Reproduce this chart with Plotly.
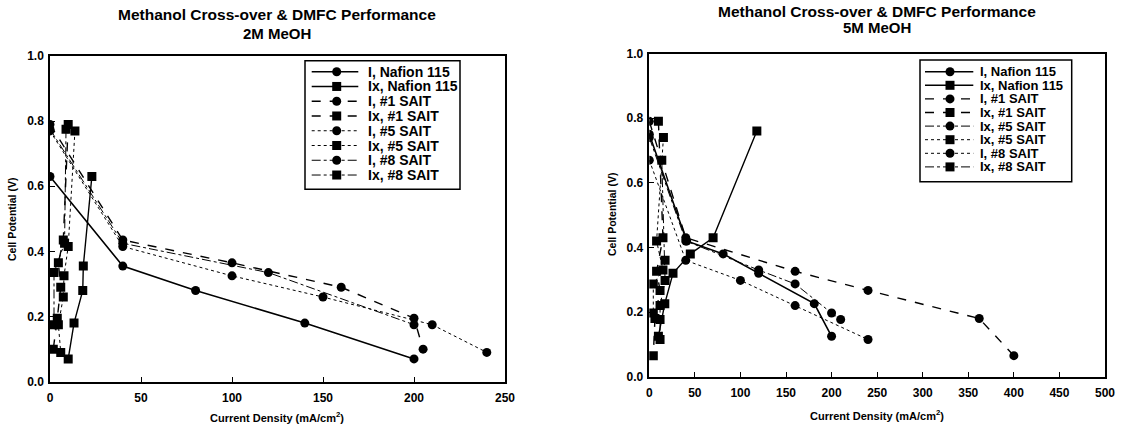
import plotly.graph_objects as go

# ---------------- 2M MeOH (left) ----------------
v2_naf = [0.63, 0.355, 0.28, 0.18, 0.07]
i2_naf = [0, 40, 80, 140, 200]
ix2_naf = [23, 18.3, 18, 13.2, 10]

v2_s1 = [0.79, 0.435, 0.365, 0.29, 0.195, 0.10]
i2_s1 = [0, 40, 100, 160, 200, 205]
ix2_s1 = [10, 7.3, 4.6, 5.9, 4.0, 1.8]

v2_s5 = [0.77, 0.415, 0.325, 0.26, 0.175, 0.09]
i2_s5 = [0, 40, 100, 150, 210, 240]
ix2_s5 = [13.7, 10, 7.7, 7.3, 4.6, 5.9]

v2_s8 = [0.775, 0.425, 0.335, 0.175]
i2_s8 = [0, 40, 120, 200]
ix2_s8 = [8.8, 8, 2.2, 2.2]

# ---------------- 5M MeOH (right) ----------------
v5_naf = [0.75, 0.42, 0.38, 0.32, 0.226, 0.125]
i5_naf = [0, 41, 81, 120, 181, 200]
vx5_naf = [0.76, 0.43, 0.38, 0.32, 0.226, 0.125]
ix5_naf = [118, 70, 45, 26, 17, 10]

v5_s1 = [0.79, 0.43, 0.326, 0.267, 0.18, 0.065]
i5_s1 = [0, 40, 160, 240, 362, 400]
ix5_s1 = [10, 15, 8, 11.8, 6.2, 4.4]

v5_s5 = [0.74, 0.42, 0.33, 0.287, 0.197, 0.177]
i5_s5 = [0, 40, 120, 160, 200, 210]
ix5_s5 = [15.5, 8, 15, 4.4, 4.4, 11.8]

v5_s8 = [0.67, 0.36, 0.298, 0.22, 0.115]
i5_s8 = [0, 40, 100, 160, 240]
ix5_s8 = [13.7, 17.3, 17.3, 11.8, 11.8]

names_2m = ["I, Nafion 115", "Ix, Nafion 115", "I, #1 SAIT", "Ix, #1 SAIT",
            "I, #5 SAIT", "Ix, #5 SAIT", "I, #8 SAIT", "Ix, #8 SAIT"]
names_5m = ["I, Nafion 115", "Ix, Nafion 115", "I, #1 SAIT", "Ix, #1 SAIT",
            "Ix, #5 SAIT", "Ix, #5 SAIT", "I, #8 SAIT", "Ix, #8 SAIT"]

title_main = "Methanol Cross-over & DMFC Performance"
subtitles = ["2M MeOH", "5M MeOH"]
xlabel = "Current Density (mA/cm<sup>2</sup>)"
ylabel = "Cell Potential (V)"

FONT = "Liberation Sans, Arial, sans-serif"
W, H = 1126, 426

fig = go.Figure()

dash_2m = ["solid", "solid", "dash", "dash", "dot", "dot", "dashdot", "dashdot"]
dash_5m = ["solid", "solid", "dash", "dash", "dashdot", "dot", "dot", "dashdot"]
widths = [1.6, 1.4, 1.4, 1.4, 1.0, 1.0, 1.0, 1.0]
symbols = ["circle", "square"] * 4

def add_set(series, names, dashes, xa, ya):
    for k, ((x, y), nm) in enumerate(zip(series, names)):
        fig.add_trace(go.Scatter(
            x=x, y=y, mode="lines+markers", name=nm, showlegend=False,
            xaxis=xa, yaxis=ya,
            line=dict(color="black", width=widths[k], dash=dashes[k]),
            marker=dict(symbol=symbols[k], size=9, color="black"),
        ))

add_set([(i2_naf, v2_naf), (ix2_naf, v2_naf), (i2_s1, v2_s1), (ix2_s1, v2_s1),
         (i2_s5, v2_s5), (ix2_s5, v2_s5), (i2_s8, v2_s8), (ix2_s8, v2_s8)],
        names_2m, dash_2m, "x", "y")
add_set([(i5_naf, v5_naf), (ix5_naf, vx5_naf), (i5_s1, v5_s1), (ix5_s1, v5_s1),
         (i5_s5, v5_s5), (ix5_s5, v5_s5), (i5_s8, v5_s8), (ix5_s8, v5_s8)],
        names_5m, dash_5m, "x2", "y2")

def px_x(p):
    return p / W

def px_y(p):
    return 1 - p / H

axis_common = dict(showline=True, linecolor="black", linewidth=1.5, mirror=True,
                   ticks="inside", ticklen=5, tickcolor="black", showgrid=False,
                   zeroline=False, automargin=False,
                   tickprefix="<b>", ticksuffix="</b>",
                   tickfont=dict(family=FONT, size=12, color="black"))

fig.update_layout(
    xaxis=dict(domain=[px_x(50), px_x(505)], range=[0, 250], dtick=50,
               anchor="y", ticklabelstandoff=4, **axis_common),
    yaxis=dict(domain=[px_y(381.7), px_y(56)], range=[0, 1.0], dtick=0.2,
               tickformat=".1f", anchor="x", ticklabelstandoff=2, **axis_common),
    xaxis2=dict(domain=[px_x(649.3), px_x(1105)], range=[0, 500], dtick=50,
                anchor="y2", ticklabelstandoff=4, **axis_common),
    yaxis2=dict(domain=[px_y(376.7), px_y(53.5)], range=[0, 1.0], dtick=0.2,
                tickformat=".1f", anchor="x2", ticklabelstandoff=2, **axis_common),
    width=W, height=H,
    margin=dict(l=0, r=0, t=0, b=0, pad=0, autoexpand=False),
    paper_bgcolor="white", plot_bgcolor="white",
    font=dict(family=FONT, color="black"),
    showlegend=False,
)

shapes = []
ann = []

def draw_legend(names, dashes, box, line_x, mark_x, text_x, row0, drow, fsize):
    x0, x1, y0, y1 = box
    shapes.append(dict(type="rect", xref="paper", yref="paper",
                       x0=px_x(x0), x1=px_x(x1), y0=px_y(y1), y1=px_y(y0),
                       line=dict(color="black", width=1.5), fillcolor="white"))
    for k, nm in enumerate(names):
        yc = row0 + k * drow
        shapes.append(dict(type="line", xref="paper", yref="paper",
                           x0=px_x(line_x[0]), x1=px_x(line_x[1]),
                           y0=px_y(yc), y1=px_y(yc),
                           line=dict(color="black", width=widths[k], dash=dashes[k])))
        shapes.append(dict(type="circle" if symbols[k] == "circle" else "rect",
                           xref="paper", yref="paper",
                           xsizemode="pixel", ysizemode="pixel",
                           xanchor=px_x(mark_x), yanchor=px_y(yc),
                           x0=-4.5, x1=4.5, y0=-4.5, y1=4.5,
                           fillcolor="black", line=dict(color="black", width=0)))
        ann.append(dict(x=px_x(text_x), y=px_y(yc), xref="paper", yref="paper",
                        text="<b>" + nm + "</b>", showarrow=False,
                        xanchor="left", yanchor="middle",
                        font=dict(family=FONT, size=fsize, color="black")))

draw_legend(names_2m, dash_2m, (305, 460, 60.7, 189.3), (311.7, 358.3), 336.7, 366,
            71.7, 14.76, 14)
draw_legend(names_5m, dash_5m, (920, 1071.7, 60, 181.7), (925, 973.3), 950, 978,
            71.7, 13.6, 13)

for cx, sub, l1, l2, ylab_x, ycen, xl_y in [(277, subtitles[0], 15, 33, 12, 220, 417),
                                            (877, subtitles[1], 12, 27.5, 612, 215, 415)]:
    ann.append(dict(x=px_x(cx), y=px_y(l1), xref="paper", yref="paper",
                    text="<b>" + title_main.replace("&", "&amp;") + "</b>",
                    showarrow=False, xanchor="center", yanchor="middle",
                    font=dict(family=FONT, size=15.5, color="black")))
    ann.append(dict(x=px_x(cx), y=px_y(l2), xref="paper", yref="paper",
                    text="<b>" + sub + "</b>",
                    showarrow=False, xanchor="center", yanchor="middle",
                    font=dict(family=FONT, size=15, color="black")))
    ann.append(dict(x=px_x(ylab_x), y=px_y(ycen), xref="paper", yref="paper",
                    text="<b>" + ylabel + "</b>", textangle=-90, showarrow=False,
                    xanchor="center", yanchor="middle",
                    font=dict(family=FONT, size=10.5, color="black")))
    ann.append(dict(x=px_x(cx), y=px_y(xl_y), xref="paper", yref="paper",
                    text="<b>" + xlabel + "</b>", showarrow=False,
                    xanchor="center", yanchor="middle",
                    font=dict(family=FONT, size=11, color="black")))

fig.update_layout(shapes=shapes, annotations=ann)

fig.write_html("out.html",
               config={"displayModeBar": False},
               post_script="document.body.style.margin='0';"
                           "document.body.style.overflow='hidden';"
                           "document.documentElement.style.overflow='hidden';")
